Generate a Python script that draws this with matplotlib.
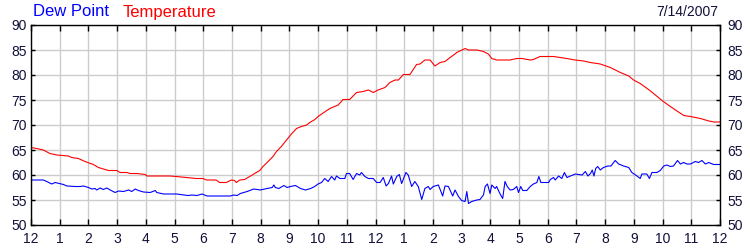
import matplotlib
matplotlib.use('Agg')
import matplotlib.pyplot as plt
import matplotlib.transforms as mtransforms

# temperature readings (hour of day, deg F)
temp_hours = [0.0, 0.2, 0.43, 0.66, 0.9, 1.3, 1.42, 1.65, 1.88, 2.17, 2.35, 2.58, 2.7, 2.99,
              3.1, 3.34, 3.45, 3.69, 3.98, 4.04, 4.83, 5.06, 5.41, 5.76, 5.99, 6.11, 6.45,
              6.57, 6.8, 6.98, 7.09, 7.15, 7.27, 7.44, 7.62, 7.79, 7.97, 8.08, 8.26, 8.43,
              8.55, 8.72, 8.9, 9.07, 9.25, 9.42, 9.6, 9.71, 9.89, 10.0, 10.2, 10.41, 10.7,
              10.87, 11.1, 11.34, 11.57, 11.75, 11.92, 12.09, 12.33, 12.5, 12.68, 12.8,
              12.97, 13.2, 13.43, 13.55, 13.72, 13.9, 14.07, 14.25, 14.42, 14.6, 14.77,
              14.83, 15.12, 15.24, 15.53, 15.76, 15.93, 16.05, 16.22, 16.68, 16.92, 17.1,
              17.39, 17.5, 17.73, 18.2, 18.43, 18.66, 18.95, 19.25, 19.48, 19.83, 20.18,
              20.53, 20.82, 20.99, 21.22, 21.51, 21.75, 21.98, 22.27, 22.5, 22.74, 22.97,
              23.32, 23.61, 23.79, 24.0]
temp_f = [65.5, 65.3, 65.0, 64.3, 64.0, 63.8, 63.5, 63.3, 62.7, 62.1, 61.5, 61.1, 60.9, 60.9,
          60.5, 60.5, 60.3, 60.3, 60.1, 59.8, 59.8, 59.7, 59.5, 59.3, 59.3, 59.0, 59.0,
          58.5, 58.5, 59.0, 58.9, 58.5, 59.0, 59.1, 59.7, 60.3, 60.9, 61.7, 62.7, 63.7,
          64.7, 65.7, 67.0, 68.2, 69.3, 69.7, 70.0, 70.5, 71.1, 71.7, 72.5, 73.3, 74.0,
          75.1, 75.1, 76.5, 76.7, 77.0, 76.5, 77.0, 77.5, 78.5, 79.0, 79.0,
          80.1, 80.1, 82.1, 82.2, 83.0, 83.0, 81.8, 82.5, 82.7, 83.5, 84.2,
          84.5, 85.3, 85.0, 85.0, 84.7, 84.2, 83.3, 83.0, 83.0, 83.3, 83.3,
          83.0, 83.1, 83.7, 83.7, 83.5, 83.3, 83.0, 82.8, 82.5, 82.2, 81.5,
          80.5, 79.8, 79.0, 78.3, 77.1, 76.0, 74.9, 73.7, 72.8, 71.9, 71.7,
          71.3, 70.8, 70.6, 70.6]

# dew point readings (hour of day, deg F)
dew_hours = [0.0, 0.43, 0.55, 0.72, 0.84, 1.13, 1.25, 1.54, 1.71, 1.83, 2.0, 2.12, 2.23,
             2.29, 2.41, 2.52, 2.64, 2.76, 2.93, 3.05, 3.22, 3.4, 3.51, 3.63, 3.74, 3.92,
             4.15, 4.33, 4.38, 4.62, 5.08, 5.32, 5.49, 5.61, 5.78, 5.9, 5.96, 6.13, 6.94,
             7.06, 7.18, 7.29, 7.53, 7.76, 7.99, 8.22, 8.4, 8.46, 8.51, 8.63, 8.81, 8.92,
             9.04, 9.21, 9.39, 9.56, 9.74, 9.88, 10.0, 10.12, 10.23, 10.35, 10.47, 10.58,
             10.64, 10.76, 10.93, 10.99, 11.1, 11.22, 11.34, 11.45, 11.51, 11.63, 11.75,
             11.92, 12.04, 12.16, 12.27, 12.37, 12.45, 12.56, 12.62, 12.74, 12.83, 12.91,
             13.06, 13.14, 13.26, 13.37, 13.49, 13.61, 13.72, 13.84, 13.9, 14.01, 14.19,
             14.34, 14.42, 14.54, 14.69, 14.77, 14.89, 15.0, 15.12, 15.18, 15.24, 15.35,
             15.53, 15.64, 15.76, 15.82, 15.9, 15.99, 16.05, 16.17, 16.22, 16.34, 16.43,
             16.51, 16.59, 16.69, 16.8, 16.92, 16.98, 17.06, 17.13, 17.27, 17.39, 17.5,
             17.62, 17.69, 17.76, 18.03, 18.09, 18.2, 18.26, 18.38, 18.49, 18.58, 18.67,
             18.79, 18.96, 19.2, 19.31, 19.4, 19.49, 19.55, 19.61, 19.67, 19.74, 19.83,
             19.94, 20.09, 20.2, 20.35, 20.47, 20.64, 20.82, 20.93, 21.11, 21.22, 21.28,
             21.45, 21.54, 21.63, 21.8, 21.92, 22.04, 22.15, 22.27, 22.38, 22.52, 22.62,
             22.73, 22.85, 22.97, 23.14, 23.25, 23.37, 23.49, 23.61, 23.78, 24.0]
dew_f = [59.0, 59.0, 58.7, 58.2, 58.5, 58.1, 57.8, 57.7, 57.7, 57.8, 57.5, 57.2, 57.3,
         57.0, 57.4, 57.1, 57.4, 57.0, 56.5, 56.8, 56.7, 57.0, 56.7, 57.2, 56.9, 56.6,
         56.5, 56.9, 56.5, 56.2, 56.2, 56.0, 55.9, 56.0, 55.9, 56.1, 56.2, 55.8, 55.8,
         56.0, 55.9, 56.3, 56.7, 57.2, 57.0, 57.3, 57.5, 58.0, 57.5, 57.3, 57.9, 57.5,
         57.7, 57.9, 57.3, 57.0, 57.3, 57.7, 58.2, 58.5, 59.3, 58.7, 59.7, 59.0,
         59.8, 59.3, 59.3, 60.3, 60.3, 59.1, 60.3, 60.0, 60.5, 59.7, 59.3,
         59.3, 58.5, 58.5, 59.5, 57.8, 58.3, 59.8, 58.2, 59.7, 60.1, 58.3,
         60.5, 60.0, 57.7, 58.7, 57.7, 55.1, 57.3, 57.7, 57.1, 57.7, 58.0,
         55.8, 57.8, 57.7, 55.8, 57.0, 55.7, 54.9, 54.7, 56.7, 54.3, 54.7,
         55.0, 55.1, 56.0, 57.7, 58.2, 56.3, 58.0, 57.3, 57.7, 56.2, 55.3,
         58.7, 57.7, 57.0, 57.1, 57.7, 56.5, 57.7, 56.9, 56.9, 57.7, 58.2,
         58.5, 59.7, 58.5, 58.5, 59.1, 59.5, 59.0, 59.8, 59.3, 60.5, 59.5,
         59.8, 60.2, 60.0, 60.7, 59.8, 60.3, 61.0, 59.8, 61.3, 61.7, 61.0,
         61.5, 61.8, 61.8, 62.9, 62.2, 61.8, 61.5, 60.5, 59.8, 59.3, 60.2,
         60.2, 59.3, 60.5, 60.5, 60.9, 61.8, 62.0, 61.7, 61.8, 62.9, 62.2,
         62.5, 62.2, 62.2, 62.7, 62.5, 62.9, 62.2, 62.5, 62.1, 62.1]

hour_labels = ['12'] + [str(i) for i in range(1, 12)] + ['12'] + [str(i) for i in range(1, 12)] + ['12']
y_ticks = list(range(50, 91, 5))

plt.rcParams['font.family'] = ['Liberation Sans', 'DejaVu Sans']

fig = plt.figure(figsize=(7.5, 2.5), dpi=100)
ax = fig.add_axes([31 / 750, 25 / 250, 689 / 750, 200 / 250])

ax.plot(temp_hours, temp_f, color='#ff0000', linewidth=0.8)
ax.plot(dew_hours, dew_f, color='#0000ff', linewidth=0.8)

ax.set_xlim(0, 24)
ax.set_ylim(50, 90)
ax.set_xticks(range(0, 25))
ax.set_xticklabels(hour_labels)
ax.set_yticks(y_ticks)

ax.grid(True, color='#cccccc', linewidth=1.0)
ax.set_axisbelow(True)

for spine in ['left', 'right', 'top', 'bottom']:
    ax.spines[spine].set_color('black')
    ax.spines[spine].set_linewidth(1.0)

label_color = '#10103a'
ax.tick_params(axis='x', direction='in', length=4, width=1, top=True, bottom=True,
               pad=5, labelsize=10, labelcolor=label_color)
ax.tick_params(axis='y', direction='in', length=3, width=1, left=True, right=True,
               labelleft=True, labelright=True, pad=3, labelsize=10, labelcolor=label_color)

# right-hand labels sit a little further from the frame
shift = mtransforms.ScaledTranslation(3 / 100, 0, fig.dpi_scale_trans)
for tick in ax.yaxis.get_major_ticks():
    tick.label2.set_transform(tick.label2.get_transform() + shift)

fig.text(33 / 750, 1 - 12 / 250, 'Dew Point', color='#0000ff', fontsize=12, va='center', ha='left')
fig.text(123 / 750, 1 - 12 / 250, 'Temperature', color='#ff0000', fontsize=12, va='center', ha='left')
fig.text(718 / 750, 1 - 12 / 250, '7/14/2007', color=label_color, fontsize=10, va='center', ha='right')

fig.savefig('out.png', dpi=100)
